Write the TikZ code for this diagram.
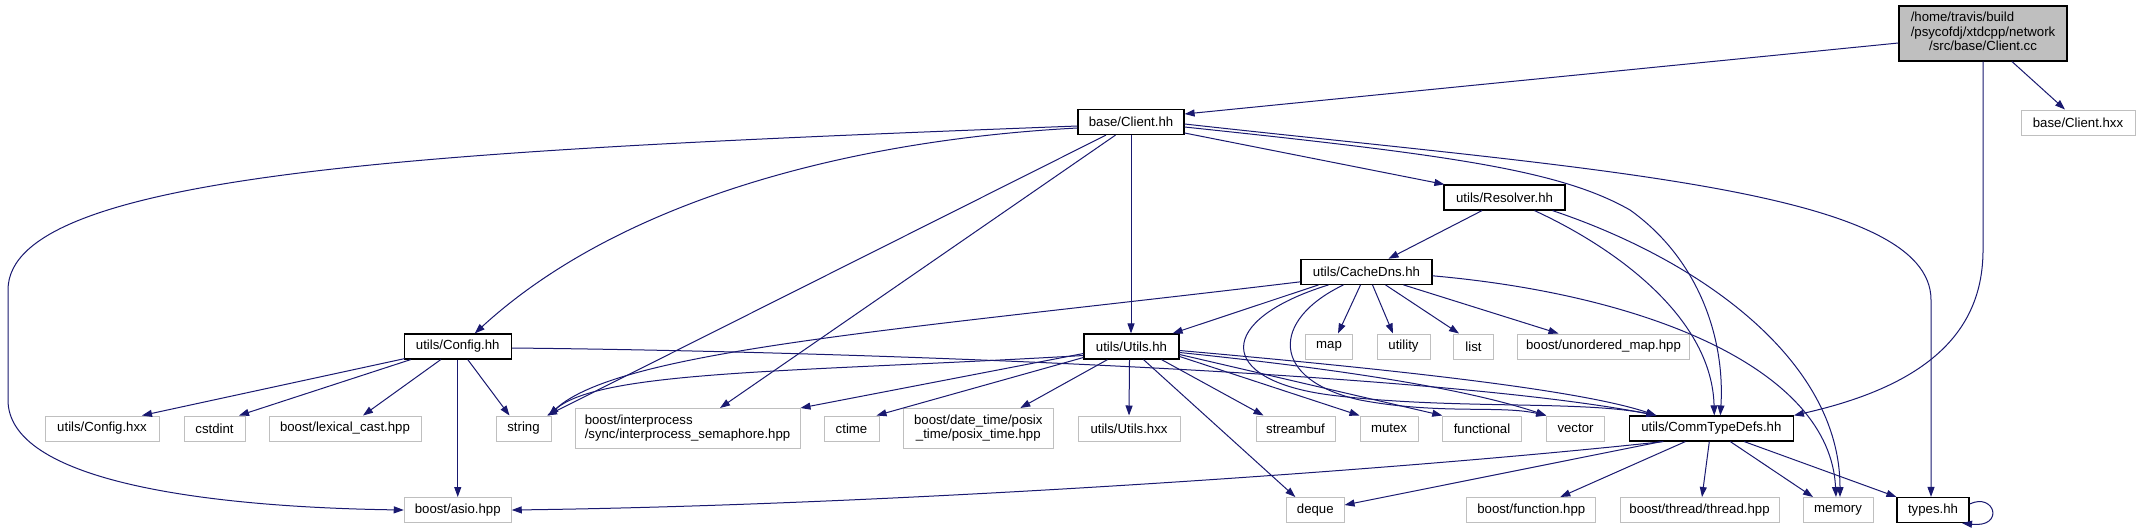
\documentclass[tikz,border=0pt]{standalone}
\usepackage{fontspec}
\setmainfont{Liberation Sans}
\usetikzlibrary{arrows.meta}
\definecolor{edgec}{HTML}{191970}
\definecolor{greyc}{HTML}{BFBFBF}
\begin{document}
\begin{tikzpicture}[x=1pt,y=-1pt,
  box/.style={draw=black, line width=1.2pt, inner sep=0pt, minimum height=25pt,
    font=\fontsize{13.2}{14.5}\selectfont, text=black, fill=white},
  ubox/.style={box, draw=greyc, line width=1pt},
  edge/.style={draw=edgec, line width=1pt, -{Triangle[length=10pt,width=7pt]}}]
\useasboundingbox[fill=white] (0,0) rectangle (2140,531);

% nodes
\node[box, fill=greyc, minimum width=168pt, minimum height=55pt] (cc) at (1983,33.5)
  {\begin{tabular}{@{}l@{}}/home/travis/build\\/psycofdj/xtdcpp/network\\\multicolumn{1}{@{}c@{}}{/src/base/Client.cc}\end{tabular}};
\node[box, minimum width=106pt] (hh) at (1131,122) {base/Client.hh};
\node[ubox, minimum width=114pt] (hxx) at (2078,122.5) {base/Client.hxx};
\node[box, minimum width=121pt] (res) at (1504.5,197.5) {utils/Resolver.hh};
\node[box, minimum width=131pt] (cdns) at (1366.5,271.8) {utils/CacheDns.hh};
\node[box, minimum width=107pt] (cfg) at (457.75,346.5) {utils/Config.hh};
\node[box, minimum width=95pt] (uti) at (1131.5,346.5) {utils/Utils.hh};
\node[ubox, minimum width=47pt] (map) at (1329,346.5) {map};
\node[ubox, minimum width=53pt] (utility) at (1403.5,346.5) {utility};
\node[ubox, minimum width=40pt] (list) at (1473.5,346.5) {list};
\node[ubox, minimum width=172pt] (umap) at (1603.5,346.5) {boost/unordered\_map.hpp};
\node[ubox, minimum width=114pt] (cfghxx) at (102,428.5) {utils/Config.hxx};
\node[ubox, minimum width=61pt] (cstdint) at (214.5,428.5) {cstdint};
\node[ubox, minimum width=152pt] (lexcast) at (345,428.5) {boost/lexical\_cast.hpp};
\node[ubox, minimum width=55pt] (string) at (523.5,428.5) {string};
\node[ubox, minimum width=225pt, minimum height=40pt] (interproc) at (687.5,428.5)
  {\begin{tabular}{@{}l@{}}boost/interprocess\\/sync/interprocess\_semaphore.hpp\end{tabular}};
\node[ubox, minimum width=55pt] (ctime) at (851.5,428.5) {ctime};
\node[ubox, minimum width=150pt, minimum height=40pt] (posix) at (978.3,428.5)
  {\begin{tabular}{@{}l@{}}boost/date\_time/posix\\\multicolumn{1}{@{}c@{}}{\_time/posix\_time.hpp}\end{tabular}};
\node[ubox, minimum width=102pt] (utilshxx) at (1129,428.5) {utils/Utils.hxx};
\node[ubox, minimum width=79pt] (streambuf) at (1295.5,428.5) {streambuf};
\node[ubox, minimum width=58pt] (mutex) at (1389,428.5) {mutex};
\node[ubox, minimum width=78.5pt] (functional) at (1482,428.5) {functional};
\node[ubox, minimum width=57.5pt] (vector) at (1575.5,428.5) {vector};
\node[box, minimum width=164pt] (ctd) at (1711.3,428.5) {utils/CommTypeDefs.hh};
\node[ubox, minimum width=107pt] (asio) at (457.75,510) {boost/asio.hpp};
\node[ubox, minimum width=57.5pt] (deque) at (1315.3,510) {deque};
\node[ubox, minimum width=129pt] (function) at (1531.3,510) {boost/function.hpp};
\node[ubox, minimum width=159pt] (thread) at (1699.5,510) {boost/thread/thread.hpp};
\node[ubox, minimum width=70pt] (memory) at (1838,510) {memory};
\node[box, minimum width=72pt] (types) at (1933,510) {types.hh};

% Client.cc
\draw[edge] ([yshift=-9.5pt]cc.west) -- ([yshift=8pt]hh.east);
\draw[edge] ([xshift=29pt]cc.south) -- ([xshift=-13pt]hxx.north);
\draw[edge] (cc.south) -- (1983,250) .. controls (1983,330) and (1930,385) .. (ctd.north east);

% Client.hh
\draw[edge] ([yshift=-4pt]hh.west) .. controls (450,150) and (8,170) .. (8,290) -- (8,400) .. controls (8,480) and (200,507) .. (asio.west);
\draw[edge] ([yshift=-6pt]hh.west) .. controls (850,140) and (620,200) .. ([xshift=17pt]cfg.north);
\draw[edge] ([xshift=-25pt]hh.south) -- ([xshift=23.5pt]string.north);
\draw[edge] ([xshift=-15.5pt]hh.south) -- ([xshift=32.5pt]interproc.north);
\draw[edge] (hh.south) -- (hh.south |- uti.north);
\draw[edge] ([yshift=-11pt]hh.east) -- ([xshift=1pt]res.north west);
\draw[edge] ([yshift=-5pt]hh.east) .. controls (1450,155) and (1560,170) .. (1630,210) .. controls (1700,260) and (1725,340) .. ([xshift=9pt]ctd.north);
\draw[edge] ([yshift=-2pt]hh.east) .. controls (1600,170) and (1931,190) .. (1931,300) -- ([xshift=-2pt]types.north);

% Resolver
\draw[edge] ([xshift=-22.5pt]res.south) -- ([xshift=22pt]cdns.north);
\draw[edge] ([xshift=30pt]res.south) .. controls (1620,250) and (1712,320) .. ([xshift=3pt]ctd.north);
\draw[edge] ([xshift=48pt]res.south) .. controls (1700,260) and (1840,360) .. ([xshift=2pt]memory.north);

% CacheDns
\draw[edge] ([yshift=-10pt]cdns.west) .. controls (900,330) and (620,350) .. ([xshift=25pt]string.north);
\draw[edge] ([xshift=-48pt]cdns.south) -- ([xshift=-7pt]uti.north east);
\draw[edge] ([xshift=-38pt]cdns.south) .. controls (1215,320) and (1215,380) .. (1330,395) .. controls (1450,410) and (1580,400) .. ([xshift=-55pt]ctd.north);
\draw[edge] ([xshift=-23pt]cdns.south) .. controls (1270,320) and (1270,380) .. (1360,400) .. controls (1440,415) and (1500,405) .. (vector.north west);
\draw[edge] ([xshift=-6pt]cdns.south) -- ([xshift=9pt]map.north);
\draw[edge] ([xshift=6pt]cdns.south) -- ([xshift=-10.5pt]utility.north);
\draw[edge] ([xshift=19pt]cdns.south) -- ([xshift=6pt]list.north west);
\draw[edge] ([xshift=37pt]cdns.south) -- ([xshift=-45pt]umap.north);
\draw[edge] ([yshift=-4pt]cdns.east) .. controls (1650,295) and (1830,370) .. ([xshift=-2pt]memory.north);

% Config.hh
\draw[edge] ([xshift=1pt,yshift=1pt]cfg.south west) -- ([xshift=40pt]cfghxx.north);
\draw[edge] ([xshift=7pt]cfg.south west) -- ([xshift=24.5pt]cstdint.north);
\draw[edge] ([xshift=-17pt]cfg.south) -- ([xshift=18pt]lexcast.north);
\draw[edge] ([xshift=10pt]cfg.south) -- ([xshift=-14pt]string.north);
\draw[edge] (cfg.south) -- (asio.north);
\draw[edge] ([yshift=-1.5pt]cfg.east) .. controls (900,352) and (1450,375) .. ([xshift=-55pt]ctd.north);

% Utils.hh
\draw[edge] ([yshift=-7pt]uti.west) -- (interproc.north east);
\draw[edge] ([yshift=-9pt]uti.west) .. controls (800,372) and (600,370) .. ([xshift=25pt]string.north);
\draw[edge] ([yshift=-11pt]uti.west) -- ([xshift=25pt]ctime.north);
\draw[edge] ([xshift=-24pt]uti.south) -- ([xshift=42pt]posix.north);
\draw[edge] ([xshift=-2pt]uti.south) -- (utilshxx.north);
\draw[edge] ([xshift=12pt]uti.south) -- ([xshift=-20pt]deque.north);
\draw[edge] ([xshift=30pt]uti.south) -- ([xshift=-32pt]streambuf.north);
\draw[edge] ([yshift=-10pt]uti.east) -- (mutex.north west);
\draw[edge] ([yshift=-8pt]uti.east) -- (functional.north west);
\draw[edge] ([yshift=-6pt]uti.east) .. controls (1350,370) and (1470,390) .. (vector.north west);
\draw[edge] ([yshift=-4pt]uti.east) .. controls (1400,370) and (1580,390) .. ([xshift=-55pt]ctd.north);

% CommTypeDefs.hh
\draw[edge] ([xshift=-48pt]ctd.south) .. controls (1400,470) and (900,505) .. (asio.east);
\draw[edge] ([xshift=-50pt]ctd.south) -- ([yshift=5pt]deque.east);
\draw[edge] ([xshift=-26pt]ctd.south) -- ([xshift=29pt]function.north);
\draw[edge] ([xshift=-2pt]ctd.south) -- ([xshift=2.5pt]thread.north);
\draw[edge] ([xshift=19pt]ctd.south) -- ([xshift=-25pt]memory.north);
\draw[edge] ([xshift=33pt]ctd.south) -- (types.north west);
\draw[edge] ([yshift=6pt]types.east) .. controls (1995,492) and (2005,528) .. ([xshift=29pt]types.south);
\end{tikzpicture}
\end{document}
